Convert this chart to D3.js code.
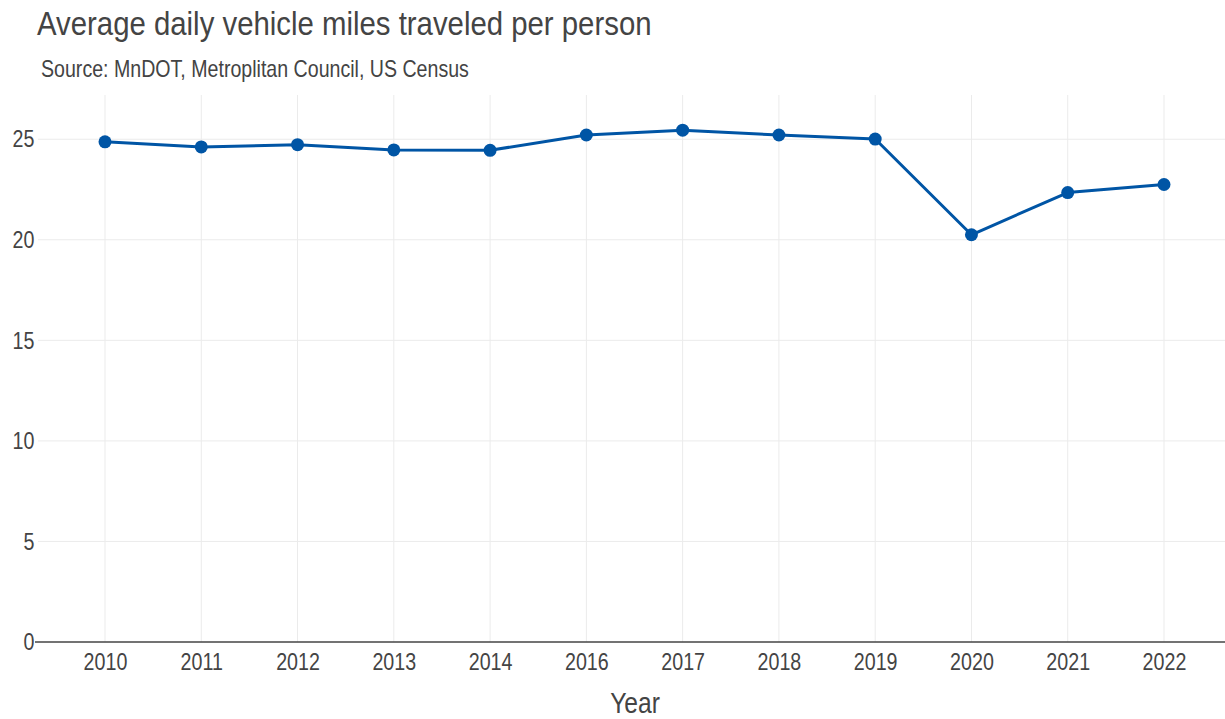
<!DOCTYPE html>
<html>
<head>
<meta charset="utf-8">
<script src="https://cdn.jsdelivr.net/npm/d3@7"></script>
<style>
  html, body { margin: 0; padding: 0; background: #fff; }
  svg { display: block; }
  text { font-family: "Liberation Sans", Arial, sans-serif; fill: #444; }
</style>
</head>
<body>
<svg id="chart" width="1225" height="719"></svg>
<script>
const years = ["2010","2011","2012","2013","2014","2016","2017","2018","2019","2020","2021","2022"];
const vmt = [24.87, 24.62, 24.73, 24.47, 24.45, 25.21, 25.45, 25.21, 25.01, 20.25, 22.35, 22.75];
const yTicks = [0, 5, 10, 15, 20, 25];
const titleText = "Average daily vehicle miles traveled per person";
const subtitleText = "Source: MnDOT, Metroplitan Council, US Census";
const xTitle = "Year";

const NARROW = 0.82; // emulate a narrow sans face
const svg = d3.select("#chart");
const plot = { left: 35, right: 1225, top: 95, bottom: 642 };

const x = d3.scalePoint().domain(years).range([105, 1164]);
const y = d3.scaleLinear().domain([0, 27.2]).range([plot.bottom, plot.top]);

// grid
const g = svg.append("g");
g.selectAll(".vg").data(years).join("line")
  .attr("x1", d => x(d)).attr("x2", d => x(d))
  .attr("y1", plot.top).attr("y2", plot.bottom)
  .attr("stroke", "#ebebeb").attr("stroke-width", 1);
g.selectAll(".hg").data(yTicks.filter(d => d > 0)).join("line")
  .attr("x1", plot.left + 3).attr("x2", plot.right)
  .attr("y1", d => y(d)).attr("y2", d => y(d))
  .attr("stroke", "#ebebeb").attr("stroke-width", 1);

// y axis labels
const yAxis = d3.axisLeft(y).tickValues(yTicks).tickSize(0).tickPadding(0);
const ya = svg.append("g").attr("transform", `translate(${plot.left - 0.5},0)`).call(yAxis);
ya.select(".domain").remove();
ya.selectAll("text").attr("x", 0).attr("font-size", 24).attr("fill", "#444")
  .attr("font-family", '"Liberation Sans", Arial, sans-serif')
  .attr("transform", `scale(${NARROW},1)`);

// x axis
const xAxis = d3.axisBottom(x).tickSize(0).tickPadding(11);
const xa = svg.append("g").attr("transform", `translate(0,${plot.bottom})`).call(xAxis);
xa.select(".domain").remove();
xa.selectAll("text").attr("font-size", 24).attr("fill", "#444")
  .attr("font-family", '"Liberation Sans", Arial, sans-serif')
  .attr("transform", `scale(${NARROW},1)`);
svg.append("line")
  .attr("x1", plot.left).attr("x2", plot.right)
  .attr("y1", y(0)).attr("y2", y(0))
  .attr("stroke", "#444").attr("stroke-width", 1.5);

// line + markers
const line = d3.line().x((d, i) => x(years[i])).y(d => y(d));
svg.append("path").datum(vmt)
  .attr("d", line).attr("fill", "none")
  .attr("stroke", "#0055a5").attr("stroke-width", 3).attr("stroke-linejoin", "round");
svg.selectAll(".pt").data(vmt).join("circle")
  .attr("cx", (d, i) => x(years[i])).attr("cy", d => y(d))
  .attr("r", 6.5).attr("fill", "#0055a5");

// titles
function narrowText(px, py, size, txt, sx, anchor) {
  return svg.append("text")
    .attr("transform", `translate(${px},${py}) scale(${sx},1)`)
    .attr("text-anchor", anchor || "start")
    .attr("font-size", size).text(txt);
}
narrowText(37, 35, 33, titleText, 0.89);
narrowText(41, 77, 23, subtitleText, 0.852);
narrowText(635, 713, 30, xTitle, NARROW, "middle");
</script>
</body>
</html>
